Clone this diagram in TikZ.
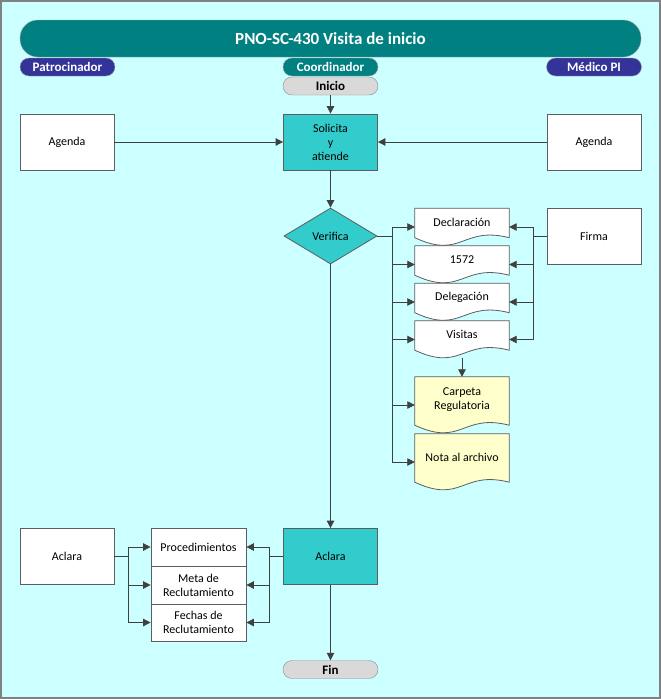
\documentclass[tikz,border=0pt]{standalone}
\usepackage{fontspec}
\setmainfont{Carlito}
\usetikzlibrary{arrows.meta,shapes.geometric}

\definecolor{fondo}{HTML}{CCFFFF}
\definecolor{tealbar}{HTML}{008080}
\definecolor{carril}{HTML}{333399}
\definecolor{proceso}{HTML}{33CCCC}
\definecolor{amarillo}{HTML}{FFFFCC}
\definecolor{gristerm}{HTML}{D9D9D9}
\definecolor{trazo}{HTML}{404040}

\tikzset{
  caja/.style={rectangle, draw=trazo!85, line width=0.8pt, minimum width=94pt, minimum height=56pt, inner sep=1pt, align=center, font=\fontsize{12}{14}\selectfont},
  procbox/.style={caja, fill=proceso},
  notabox/.style={caja, fill=white},
  carrilbox/.style={rounded corners=9pt, draw=trazo!50, minimum width=95pt, minimum height=18pt, inner sep=0pt, text=white, font=\bfseries\fontsize{13}{14}\selectfont},
  terminal/.style={rounded corners=9pt, draw=trazo!60, fill=gristerm, minimum width=95pt, minimum height=18pt, inner sep=0pt, font=\bfseries\fontsize{13}{14}\selectfont},
  docbox/.style={rectangle, minimum width=94pt, inner sep=0pt},
  doctext/.style={align=center, font=\fontsize{12}{14}\selectfont},
  flecha/.style={draw=trazo, line width=0.8pt, -{Triangle[length=7.5pt,width=7.5pt]}},
  bus/.style={draw=trazo, line width=0.8pt},
}

% documento con borde ondulado
\newcommand{\docnode}[5]{%
  \node[docbox, minimum height=#3] (#1) at (#2) {};
  \draw[draw=trazo!85, line width=0.8pt, fill=#4] (#1.north west) -- (#1.north east)
    -- ([yshift=8pt]#1.south east) .. controls ([yshift=20pt]#1.south) and ([yshift=-14pt]#1.south) .. ([yshift=8pt]#1.south west) -- cycle;
  \node[doctext] at ([yshift=5pt]#1.center) {#5};
}

\begin{document}
\begin{tikzpicture}[x=1pt, y=-1pt]
  \useasboundingbox (0,0) rectangle (661,699);
  \draw[draw=gray, line width=2pt, fill=fondo] (1,1) rectangle (660,698);

  % encabezado
  \node[rounded corners=18pt, draw=trazo!50, fill=tealbar, minimum width=621pt, minimum height=37pt, text=white, font=\bfseries\fontsize{17}{18}\selectfont] (titulo) at (330.5,38.5) {PNO-SC-430 Visita de inicio};
  \node[carrilbox, fill=carril] (patroc) at (67.5,67) {Patrocinador};
  \node[carrilbox, fill=tealbar] (coord) at (330.5,67) {Coordinador};
  \node[carrilbox, fill=carril] (medico) at (594,67) {Médico PI};

  \node[terminal] (inicio) at (330.5,86) {Inicio};
  \node[procbox] (solicita) at (330.5,142) {Solicita\\y\\atiende};
  \node[notabox] (agendaL) at (67,142) {Agenda};
  \node[notabox] (agendaR) at (594,142) {Agenda};

  \node[diamond, draw=trazo!85, line width=0.8pt, fill=proceso, minimum width=93pt, minimum height=56pt, inner sep=0pt, font=\fontsize{12}{14}\selectfont] (verifica) at (330.5,236) {Verifica};
  \node[notabox] (firma) at (594,236) {Firma};

  \docnode{decl}{462,227}{37pt}{white}{Declaración}
  \docnode{d1572}{462,264.5}{37pt}{white}{1572}
  \docnode{deleg}{462,302}{37pt}{white}{Delegación}
  \docnode{visitas}{462,339.5}{37pt}{white}{Visitas}
  \docnode{carpeta}{462,405}{56pt}{amarillo}{Carpeta\\Regulatoria}
  \docnode{nota}{462,462}{56pt}{amarillo}{Nota al archivo}

  \node[procbox] (aclaraC) at (330.5,556.5) {Aclara};
  \node[notabox] (aclaraL) at (67,556.5) {Aclara};
  \node[notabox, minimum width=95pt, minimum height=38pt] (proced) at (198.5,547) {Procedimientos};
  \node[notabox, minimum width=95pt, minimum height=38pt] (meta) at (198.5,585) {Meta de\\Reclutamiento};
  \node[notabox, minimum width=95pt, minimum height=37pt] (fechas) at (198.5,622.5) {Fechas de\\Reclutamiento};
  \node[terminal] (fin) at (330.5,669.5) {Fin};

  % conectores
  \draw[flecha] (inicio) -- (solicita);
  \draw[flecha] (agendaL) -- (solicita);
  \draw[flecha] (agendaR) -- (solicita);
  \draw[flecha] (solicita) -- (verifica);

  \coordinate (busV) at (392,236);
  \draw[bus] (verifica.east) -- (busV);
  \foreach \d in {decl,d1572,deleg,visitas,carpeta,nota}
    \draw[flecha] (busV) |- (\d.west);

  \coordinate (busF) at (533,236);
  \draw[bus] (firma.west) -- (busF);
  \foreach \d in {decl,d1572,deleg,visitas}
    \draw[flecha] (busF) |- (\d.east);

  \draw[flecha] (visitas.south) -- (carpeta.north);
  \draw[flecha] (verifica) -- (aclaraC);

  \coordinate (busL) at (128,556.5);
  \draw[bus] (aclaraL.east) -- (busL);
  \foreach \d in {proced,meta,fechas}
    \draw[flecha] (busL) |- (\d.west);

  \coordinate (busR) at (269,556.5);
  \draw[bus] (aclaraC.west) -- (busR);
  \foreach \d in {proced,meta,fechas}
    \draw[flecha] (busR) |- (\d.east);

  \draw[flecha] (aclaraC) -- (fin);
\end{tikzpicture}
\end{document}
